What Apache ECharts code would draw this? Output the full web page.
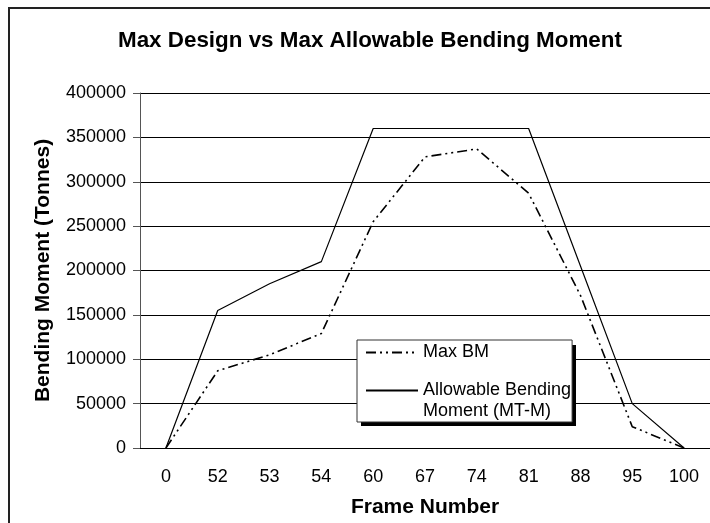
<!DOCTYPE html>
<html>
<head>
<meta charset="utf-8">
<script src="https://cdn.jsdelivr.net/npm/echarts@6/dist/echarts.min.js"></script>
<style>
  html, body { margin: 0; padding: 0; background: #fff; }
  #chart { width: 710px; height: 523px; }
</style>
</head>
<body>
<div id="chart"></div>
<script>
// frame numbers on the x axis
const frames = ['0', '52', '53', '54', '60', '67', '74', '81', '88', '95', '100'];
// max design bending moment
const maxBM = [0, 87000, 105000, 129000, 255000, 328000, 337000, 287000, 172000, 24000, 0];
// allowable bending moment (MT-M)
const allowable = [0, 155000, 185000, 210000, 360000, 360000, 360000, 360000, 205000, 50000, 0];

const font = 'Liberation Sans, Arial, sans-serif';

const chart = echarts.init(document.getElementById('chart'));
chart.setOption({
  animation: false,
  backgroundColor: '#fff',
  textStyle: { fontFamily: font, color: '#000' },
  title: {
    text: 'Max Design vs Max Allowable Bending Moment',
    left: 113,
    top: 25,
    textStyle: { fontFamily: font, fontSize: 22.4, fontWeight: 'bold', color: '#000' }
  },
  graphic: [
    // outer chart frame
    {
      type: 'rect',
      silent: true,
      shape: { x: 9, y: 8, width: 760, height: 560 },
      style: { fill: 'none', stroke: '#222', lineWidth: 2 }
    },
    // solid drop shadow behind the legend box
    {
      type: 'rect',
      silent: true,
      z: 1,
      shape: { x: 361, y: 345, width: 215, height: 81 },
      style: { fill: '#000' }
    }
  ],
  grid: { left: 140, top: 93, width: 572, height: 357 },
  legend: {
    orient: 'vertical',
    left: 357,
    top: 340,
    z: 5,
    padding: [2, 1, 0, 8],
    itemGap: -4,
    itemWidth: 52,
    itemHeight: 14,
    backgroundColor: '#fff',
    borderColor: '#333',
    borderWidth: 1,
    itemStyle: { opacity: 0 },
    textStyle: { fontFamily: font, fontSize: 18, color: '#000', lineHeight: 21 },
    data: ['Max BM', 'Allowable Bending Moment (MT-M)'],
    formatter: function (name) {
      return name === 'Max BM' ? name : '\nAllowable Bending\nMoment (MT-M)';
    }
  },
  xAxis: {
    type: 'category',
    data: frames,
    name: 'Frame Number',
    nameLocation: 'middle',
    nameGap: 49,
    nameTextStyle: { fontFamily: font, fontSize: 21, fontWeight: 'bold', color: '#000' },
    axisLine: { lineStyle: { color: '#000', width: 1 } },
    axisTick: { length: 6, lineStyle: { color: '#333' } },
    axisLabel: { margin: 20, fontFamily: font, fontSize: 18, color: '#000' },
    splitLine: { show: false }
  },
  yAxis: {
    type: 'value',
    min: 0,
    max: 400000,
    interval: 50000,
    name: 'Bending Moment (Tonnes)',
    nameLocation: 'middle',
    nameGap: 86,
    nameTextStyle: { fontFamily: font, fontSize: 21, fontWeight: 'bold', color: '#000' },
    axisLine: { show: true, lineStyle: { color: '#555', width: 1 } },
    axisTick: { show: true, length: 7, lineStyle: { color: '#555' } },
    axisLabel: {
      margin: 14,
      fontFamily: font,
      fontSize: 18,
      color: '#000',
      formatter: function (v) { return String(v); }
    },
    splitLine: { lineStyle: { color: '#000', width: 1 } }
  },
  series: [
    {
      name: 'Max BM',
      type: 'line',
      data: maxBM,
      symbol: 'none',
      lineStyle: { color: '#000', width: 1.6, type: [10, 4, 2, 4, 2, 4] },
      itemStyle: { color: '#000' }
    },
    {
      name: 'Allowable Bending Moment (MT-M)',
      type: 'line',
      data: allowable,
      symbol: 'none',
      lineStyle: { color: '#000', width: 1.2, type: 'solid' },
      itemStyle: { color: '#000' }
    }
  ]
});
</script>
</body>
</html>
